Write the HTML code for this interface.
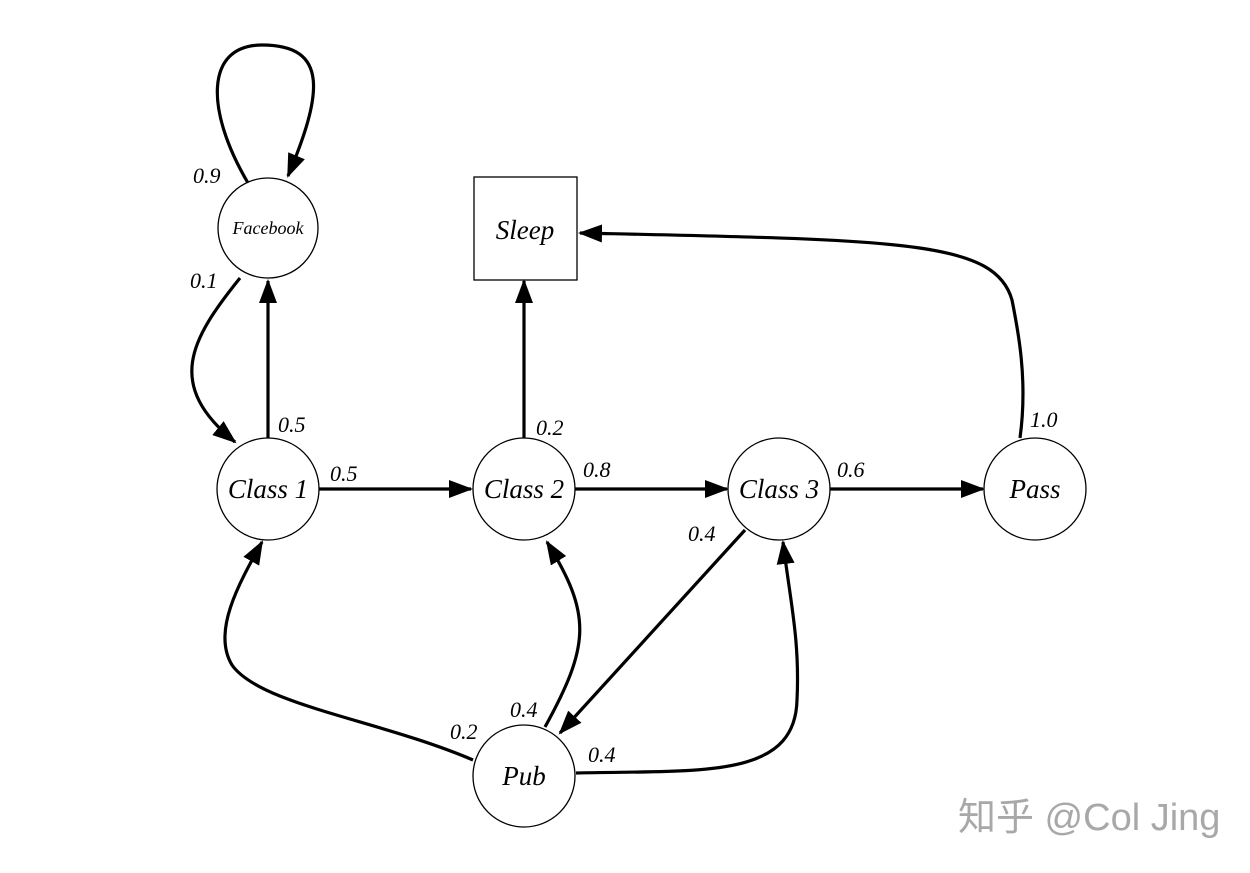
<!DOCTYPE html>
<html><head><meta charset="utf-8"><style>
html,body{margin:0;padding:0;background:#fff;}
svg text{font-family:"Liberation Serif",serif;font-style:italic;fill:#000;}
</style></head><body>
<svg width="1250" height="868" viewBox="0 0 1250 868" xmlns="http://www.w3.org/2000/svg">
<defs>
<marker id="a" markerUnits="userSpaceOnUse" markerWidth="24" markerHeight="18" refX="22" refY="9" orient="auto">
<path d="M0,0 L24,9 L0,18 Z" fill="#000"/>
</marker>
</defs>
<g fill="none" stroke="#000" stroke-width="3.2">
<path d="M248,183 C205,110 205,45 262,45 C330,45 322,95 288,176" marker-end="url(#a)"/>
<path d="M240,278 C190,340 165,385 235,442" marker-end="url(#a)"/>
<path d="M268,438 L268,281" marker-end="url(#a)"/>
<path d="M319,489 L471,489" marker-end="url(#a)"/>
<path d="M524,438 L524,281" marker-end="url(#a)"/>
<path d="M575,489 L727,489" marker-end="url(#a)"/>
<path d="M830,489 L983,489" marker-end="url(#a)"/>
<path d="M1020,438 C1028,380 1018,330 1012,300 C995,240 900,240 580,233" marker-end="url(#a)"/>
<path d="M745,530 L560,733" marker-end="url(#a)"/>
<path d="M473,760 C380,720 260,705 232,665 C212,632 238,585 262,542" marker-end="url(#a)"/>
<path d="M545,727 C590,645 592,615 547,542" marker-end="url(#a)"/>
<path d="M576,773 C700,770 795,780 797,700 C800,640 790,600 783,542" marker-end="url(#a)"/>
</g>
<g fill="#fff" stroke="#000" stroke-width="1.3">
<circle cx="268" cy="228" r="50"/>
<rect x="474" y="177" width="103" height="103"/>
<circle cx="268" cy="489" r="51"/>
<circle cx="524" cy="489" r="51"/>
<circle cx="779" cy="489" r="51"/>
<circle cx="1035" cy="489" r="51"/>
<circle cx="524" cy="776" r="51"/>
</g>
<g text-anchor="middle" font-size="27">
<text x="268" y="234" font-size="18">Facebook</text>
<text x="525" y="239">Sleep</text>
<text x="268" y="498">Class 1</text>
<text x="524" y="498">Class 2</text>
<text x="779" y="498">Class 3</text>
<text x="1035" y="498">Pass</text>
<text x="524" y="785">Pub</text>
</g>
<g font-size="22">
<text x="193" y="183">0.9</text>
<text x="190" y="288">0.1</text>
<text x="278" y="432">0.5</text>
<text x="330" y="481">0.5</text>
<text x="536" y="435">0.2</text>
<text x="583" y="477">0.8</text>
<text x="837" y="477">0.6</text>
<text x="1030" y="427">1.0</text>
<text x="688" y="541">0.4</text>
<text x="450" y="739">0.2</text>
<text x="510" y="717">0.4</text>
<text x="588" y="762">0.4</text>
</g>
<text x="958" y="830" font-size="38" style="font-family:'Liberation Sans','Noto Sans CJK SC',sans-serif;font-style:normal;fill:#a8a8a8">知乎 @Col Jing</text>
</svg>
</body></html>
